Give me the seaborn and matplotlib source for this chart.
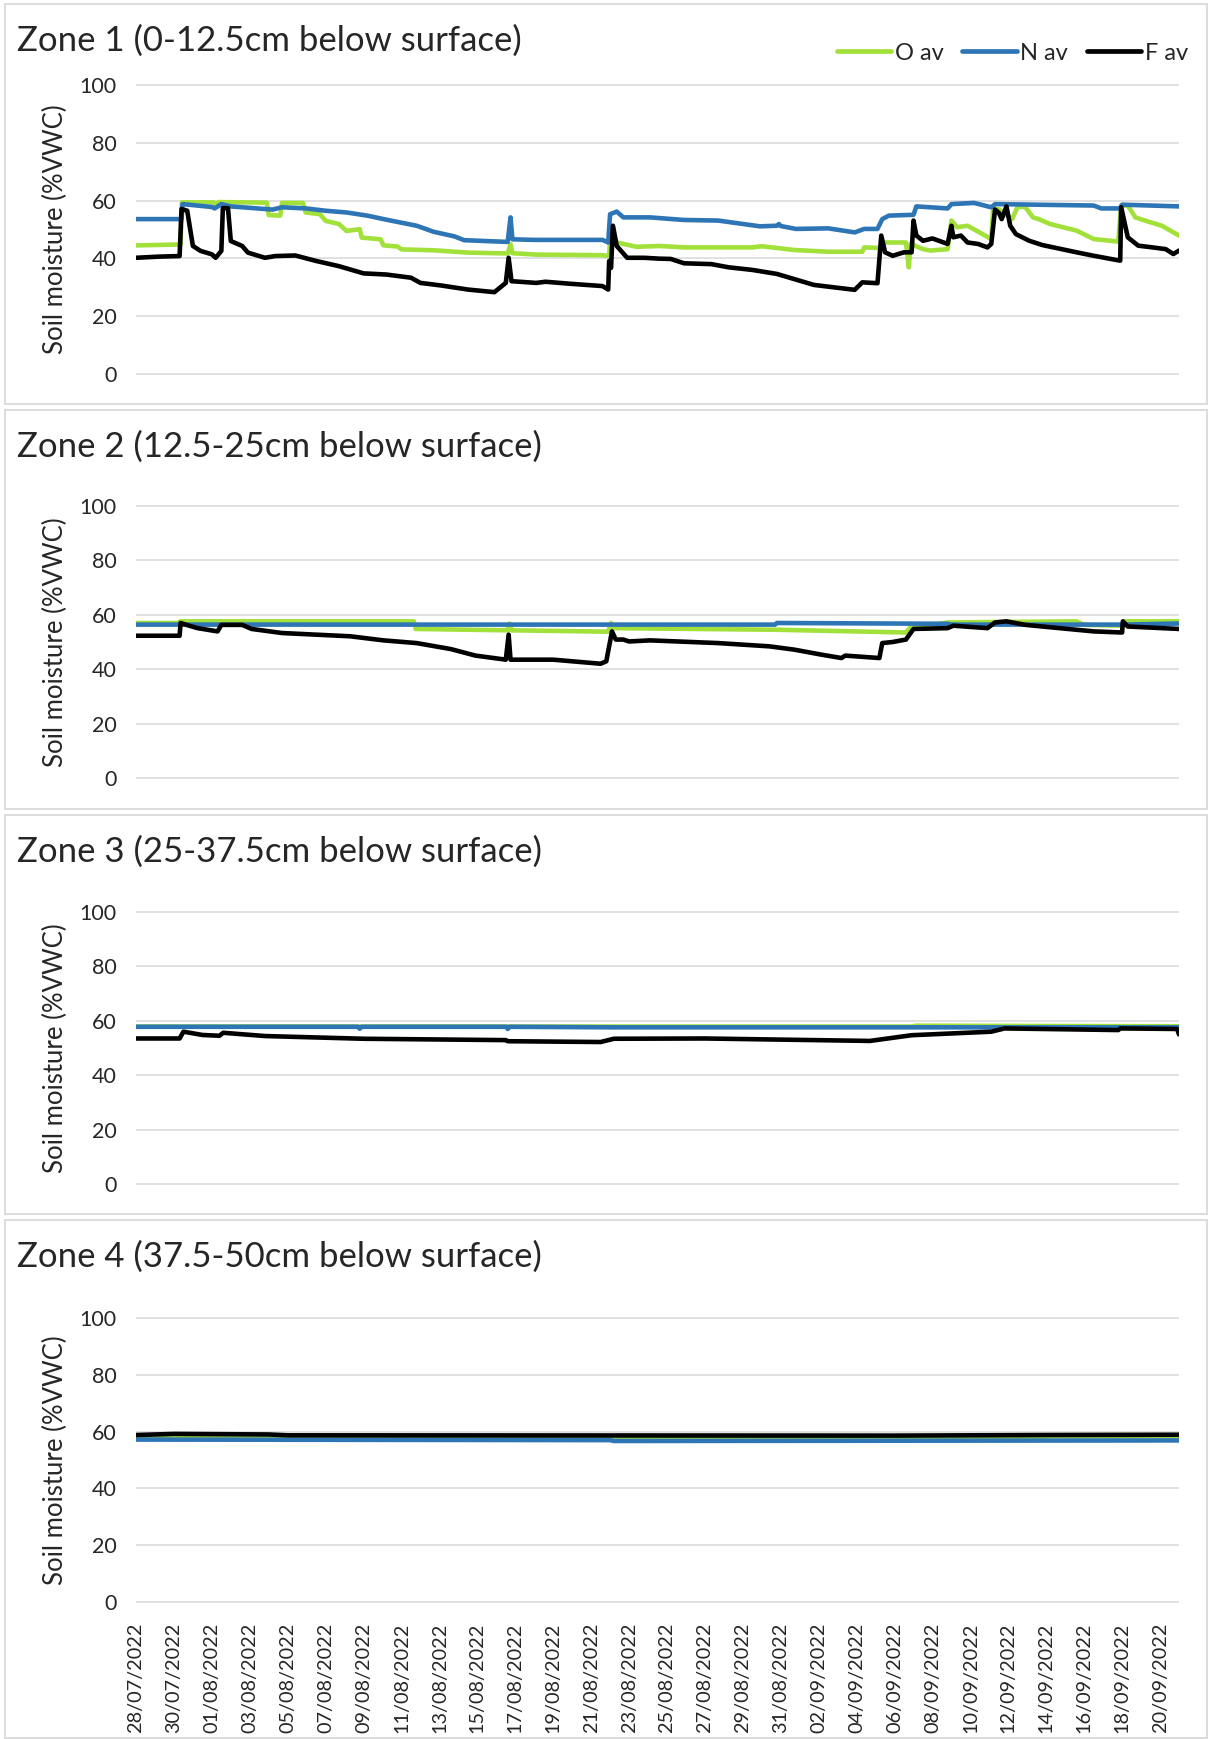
import matplotlib
matplotlib.use("Agg")
import matplotlib.pyplot as plt
import matplotlib.dates as mdates
from matplotlib.lines import Line2D
from matplotlib.patches import Rectangle
import pandas as pd
import seaborn as sns

# ---- data: (day offset from 28/07/2022, soil moisture %VWC) ----
START = pd.Timestamp("2022-07-28")
SERIES = ["O av", "N av", "F av"]
COLORS = {"O av": "#a2e03a", "N av": "#2e75b6", "F av": "#000000"}

TITLES = [
    "Zone 1 (0-12.5cm below surface)",
    "Zone 2 (12.5-25cm below surface)",
    "Zone 3 (25-37.5cm below surface)",
    "Zone 4 (37.5-50cm below surface)",
]

Z1_O = [(0, 44.5), (2.35, 44.8), (2.42, 59.4), (4.1, 59.4), (4.2, 58.6), (4.35, 59.5),
        (6.9, 59.3), (7.0, 55.0), (7.6, 54.8), (7.7, 59.2), (8.8, 59.2), (8.95, 55.9),
        (9.7, 55.3), (10.0, 53.0), (10.7, 51.9), (11.1, 49.5), (11.8, 50.1), (11.9, 47.2),
        (12.9, 46.6), (13.05, 44.5), (13.8, 44.1), (14.0, 43.1), (15.7, 42.8), (17.5, 42.0),
        (19.6, 41.7), (19.75, 44.9), (19.85, 41.8), (21.1, 41.3), (24.6, 41.1), (24.95, 40.8),
        (25.0, 47.2), (25.35, 45.5), (26.4, 44.0), (27.6, 44.3), (28.9, 43.8), (32.5, 43.8),
        (33.0, 44.2), (34.7, 42.9), (36.5, 42.3), (38.3, 42.3), (38.4, 43.8), (39.2, 43.6),
        (39.5, 45.5), (40.6, 45.5), (40.75, 36.9), (40.85, 45.0), (41.5, 43.2), (41.9, 42.7),
        (42.8, 43.2), (43.0, 53.1), (43.3, 50.8), (43.85, 51.3), (45.1, 46.7), (45.2, 57.1),
        (45.5, 57.0), (46.2, 53.6), (46.5, 58.0), (46.9, 57.7), (47.3, 54.2), (47.6, 53.6),
        (48.2, 51.9), (49.6, 49.6), (50.5, 46.7), (51.8, 45.8), (51.95, 58.3), (52.3, 58.3),
        (52.7, 54.2), (53.2, 53.1), (54.1, 51.3), (55.0, 47.9)]
Z1_N = [(0, 53.6), (2.4, 53.6), (2.45, 58.8), (4.0, 57.8), (4.15, 57.3), (4.5, 58.8),
        (5.0, 58.0), (7.2, 56.9), (7.7, 57.7), (8.95, 57.3), (10.0, 56.5), (11.1, 55.9),
        (12.2, 54.8), (13.2, 53.4), (14.8, 51.3), (15.7, 49.2), (16.8, 47.6), (17.3, 46.3),
        (19.6, 45.7), (19.75, 54.2), (19.85, 46.6), (21.0, 46.4), (24.6, 46.4), (24.9, 45.5),
        (25.0, 55.3), (25.35, 56.2), (25.7, 54.2), (27.1, 54.2), (28.9, 53.3), (30.7, 53.1),
        (32.9, 51.1), (33.8, 51.3), (33.9, 51.9), (34.0, 51.2), (34.8, 50.2), (36.5, 50.4),
        (37.9, 49.0), (38.4, 50.2), (39.1, 50.2), (39.35, 53.6), (39.7, 54.8), (41.0, 55.1),
        (41.15, 58.0), (42.8, 57.3), (43.0, 58.8), (44.2, 59.2), (45.1, 57.7), (45.3, 58.8),
        (50.5, 58.3), (50.9, 57.3), (51.9, 57.3), (52.0, 58.6), (55.0, 58.0)]
Z1_F = [(0, 40.2), (1.2, 40.6), (2.3, 40.8), (2.4, 57.1), (2.7, 56.5), (3.0, 44.3),
        (3.4, 42.6), (4.0, 41.4), (4.2, 40.2), (4.5, 42.6), (4.58, 57.4), (4.85, 57.4),
        (5.0, 46.0), (5.6, 44.3), (5.9, 42.0), (6.8, 40.2), (7.35, 40.8), (8.4, 41.0),
        (9.5, 39.1), (10.7, 37.3), (12.0, 34.8), (13.2, 34.4), (14.5, 33.3), (15.0, 31.5),
        (16.1, 30.6), (17.5, 29.2), (18.9, 28.3), (19.5, 31.5), (19.65, 40.2), (19.8, 32.1),
        (21.1, 31.5), (21.6, 31.9), (22.9, 31.2), (24.6, 30.4), (24.9, 29.2), (24.95, 39.1),
        (25.05, 36.7), (25.15, 51.3), (25.35, 44.3), (25.9, 40.2), (26.8, 40.2), (27.6, 39.9),
        (28.2, 39.8), (28.9, 38.3), (30.35, 38.0), (31.25, 36.9), (32.5, 36.0), (33.8, 34.6),
        (35.75, 30.8), (37.9, 29.1), (38.3, 31.7), (39.1, 31.4), (39.3, 47.9), (39.5, 42.1),
        (39.9, 40.9), (40.5, 42.1), (40.9, 42.1), (41.0, 53.1), (41.15, 47.9), (41.5, 46.1),
        (42.0, 46.9), (42.8, 45.0), (43.0, 51.3), (43.1, 47.3), (43.5, 47.9), (43.85, 45.5),
        (44.4, 45.0), (44.9, 43.8), (45.1, 45.0), (45.3, 56.9), (45.5, 55.8), (45.65, 53.6),
        (45.9, 58.0), (46.1, 51.3), (46.4, 48.4), (47.1, 46.1), (47.8, 44.6), (49.6, 42.1),
        (50.5, 40.9), (51.9, 39.2), (51.95, 57.7), (52.3, 47.3), (52.85, 44.4), (53.6, 43.8),
        (54.3, 43.2), (54.7, 41.5), (55.0, 42.7)]

Z2_O = [(0, 57.0), (2.2, 57.0), (2.35, 57.6), (14.65, 57.6), (14.75, 54.8), (19.6, 54.3),
        (19.7, 56.8), (19.8, 54.3), (24.9, 53.8), (25.05, 57.0), (25.15, 55.1), (33.8, 54.5),
        (40.6, 53.5), (40.8, 55.1), (42.8, 57.2), (49.6, 57.6), (50.0, 56.3), (52.0, 56.0),
        (52.1, 57.6), (55.0, 57.6)]
Z2_N = [(0, 56.4), (33.7, 56.4), (33.8, 57.0), (42.8, 56.7), (43.0, 56.4), (52.0, 56.4),
        (55.0, 56.8)]
Z2_F = [(0, 52.3), (2.3, 52.3), (2.35, 57.0), (2.8, 56.0), (3.25, 55.1), (4.3, 53.9),
        (4.5, 56.3), (5.6, 56.3), (6.1, 54.8), (7.7, 53.3), (9.5, 52.7), (11.3, 52.1),
        (13.05, 50.6), (14.8, 49.6), (16.6, 47.4), (17.9, 45.0), (19.5, 43.5), (19.65, 52.7),
        (19.75, 43.5), (22.0, 43.5), (24.5, 42.0), (24.8, 42.9), (24.9, 46.6), (25.1, 53.9),
        (25.3, 50.9), (25.7, 50.9), (26.0, 50.2), (27.1, 50.6), (30.7, 49.6), (33.4, 48.4),
        (34.7, 47.2), (36.1, 45.4), (37.2, 44.1), (37.4, 45.0), (39.2, 44.1), (39.35, 49.6),
        (39.9, 50.0), (40.6, 50.9), (41.0, 54.8), (42.8, 55.1), (43.1, 56.0), (44.9, 55.1),
        (45.3, 57.2), (45.9, 57.6), (46.9, 56.3), (50.5, 53.9), (52.0, 53.5), (52.04, 57.6),
        (52.3, 55.7), (55.0, 54.8)]

Z3_O = [(0, 57.9), (41.0, 57.9), (41.1, 58.2), (55.0, 58.0)]
Z3_N = [(0, 57.8), (11.7, 57.8), (11.8, 57.1), (11.9, 57.8), (19.55, 57.8), (19.6, 57.0),
        (19.7, 57.8), (25.2, 57.6), (55.0, 57.6)]
Z3_F = [(0, 53.5), (2.3, 53.5), (2.5, 56.0), (3.5, 54.8), (4.4, 54.5), (4.6, 55.6),
        (6.8, 54.4), (12.0, 53.4), (19.5, 52.9), (19.6, 52.5), (24.5, 52.2), (25.2, 53.4),
        (30.0, 53.5), (38.7, 52.6), (40.9, 54.7), (45.1, 56.0), (45.8, 57.2), (51.8, 56.6),
        (51.9, 57.2), (54.9, 57.0), (55.0, 55.0)]

Z4_O = [(0, 58.3), (48.0, 58.0), (48.1, 58.4), (55.0, 58.4)]
Z4_N = [(0, 57.2), (25.0, 57.0), (25.2, 56.7), (55.0, 56.9)]
Z4_F = [(0, 58.8), (2.0, 59.2), (7.0, 59.0), (8.0, 58.7), (40.0, 58.6), (48.0, 58.8),
        (55.0, 58.9)]

ZONES = [(Z1_O, Z1_N, Z1_F), (Z2_O, Z2_N, Z2_F), (Z3_O, Z3_N, Z3_F), (Z4_O, Z4_N, Z4_F)]
Y_TICKS = [0, 20, 40, 60, 80, 100]
N_DAYS = 55


def zone_frame(zone):
    rows = []
    for name, pts in zip(SERIES, zone):
        for d, v in pts:
            rows.append({"time": START + pd.Timedelta(days=d), "value": v, "series": name})
    return pd.DataFrame(rows)


sns.set_style("white")
plt.rcParams["font.family"] = ["Lato", "DejaVu Sans"]

W, H = 1208, 1739
fig = plt.figure(figsize=(W / 100, H / 100), dpi=100)

# pixel layout (top, bottom of plotting area) and panel frames
plot_rows = [(84, 375), (505, 779), (911, 1185), (1317, 1603)]
frames = [(4.5, 403.5), (410, 809), (815, 1214), (1220, 1738)]
x0, x1 = 136, 1179

for i, (zone, (top, bot), (ftop, fbot)) in enumerate(zip(ZONES, plot_rows, frames)):
    fig.add_artist(Rectangle((4.5 / W, 1 - fbot / H), (1206.5 - 4.5) / W, (fbot - ftop) / H,
                             transform=fig.transFigure, fill=False,
                             edgecolor="#d9d9d9", linewidth=1.3))
    ax = fig.add_axes([x0 / W, 1 - bot / H, (x1 - x0) / W, (bot - top) / H])
    ax.set_facecolor("none")
    df = zone_frame(zone)
    sns.lineplot(data=df, x="time", y="value", hue="series", hue_order=SERIES,
                 palette=COLORS, estimator=None, sort=False, legend=False,
                 linewidth=3.3, ax=ax, solid_joinstyle="round", solid_capstyle="round")
    ax.set_ylim(-0.4, 100.4)
    ax.set_xlim(START, START + pd.Timedelta(days=N_DAYS))
    ax.set_yticks(Y_TICKS)
    ax.grid(axis="y", color="#d9d9d9", linewidth=1.1)
    ax.grid(axis="x", visible=False)
    for s in ax.spines.values():
        s.set_visible(False)
    ax.tick_params(axis="y", length=0, pad=14, labelsize=15.5)
    ax.set_ylabel("Soil moisture (%VWC)", fontsize=18.5)
    ax.yaxis.set_label_coords((68 - x0) / (x1 - x0), 0.5)
    ax.set_xlabel("")
    fig.text(16.6 / W, 1 - (ftop + 46.5) / H, TITLES[i], fontsize=25, va="baseline", ha="left")

    if i < 3:
        ax.set_xticks([])
    else:
        ticks = [START + pd.Timedelta(days=2 * k) for k in range(28)]
        ax.set_xticks(ticks)
        ax.set_xticklabels([t.strftime("%d/%m/%Y") for t in ticks], rotation=90,
                           fontsize=14.3, va="top", ha="center")
        ax.xaxis.set_minor_locator(mdates.HourLocator(byhour=range(0, 24, 2)))
        ax.tick_params(axis="x", which="both", length=6, width=0.6, color="#c8c8c8",
                       direction="out", pad=8)
        ax.tick_params(axis="x", which="minor", length=6)

    if i == 0:
        handles = [Line2D([], [], color=COLORS[s], linewidth=3.4, solid_capstyle="round")
                   for s in SERIES]
        fig.legend(handles, SERIES, loc="center right", ncol=3, frameon=False,
                   bbox_to_anchor=(1188 / W, 1 - 53 / H), bbox_transform=fig.transFigure,
                   fontsize=17, handlelength=2.3, handletextpad=0.15, columnspacing=0.8,
                   borderpad=0, borderaxespad=0)

fig.savefig("out.png", dpi=100, facecolor="white")
